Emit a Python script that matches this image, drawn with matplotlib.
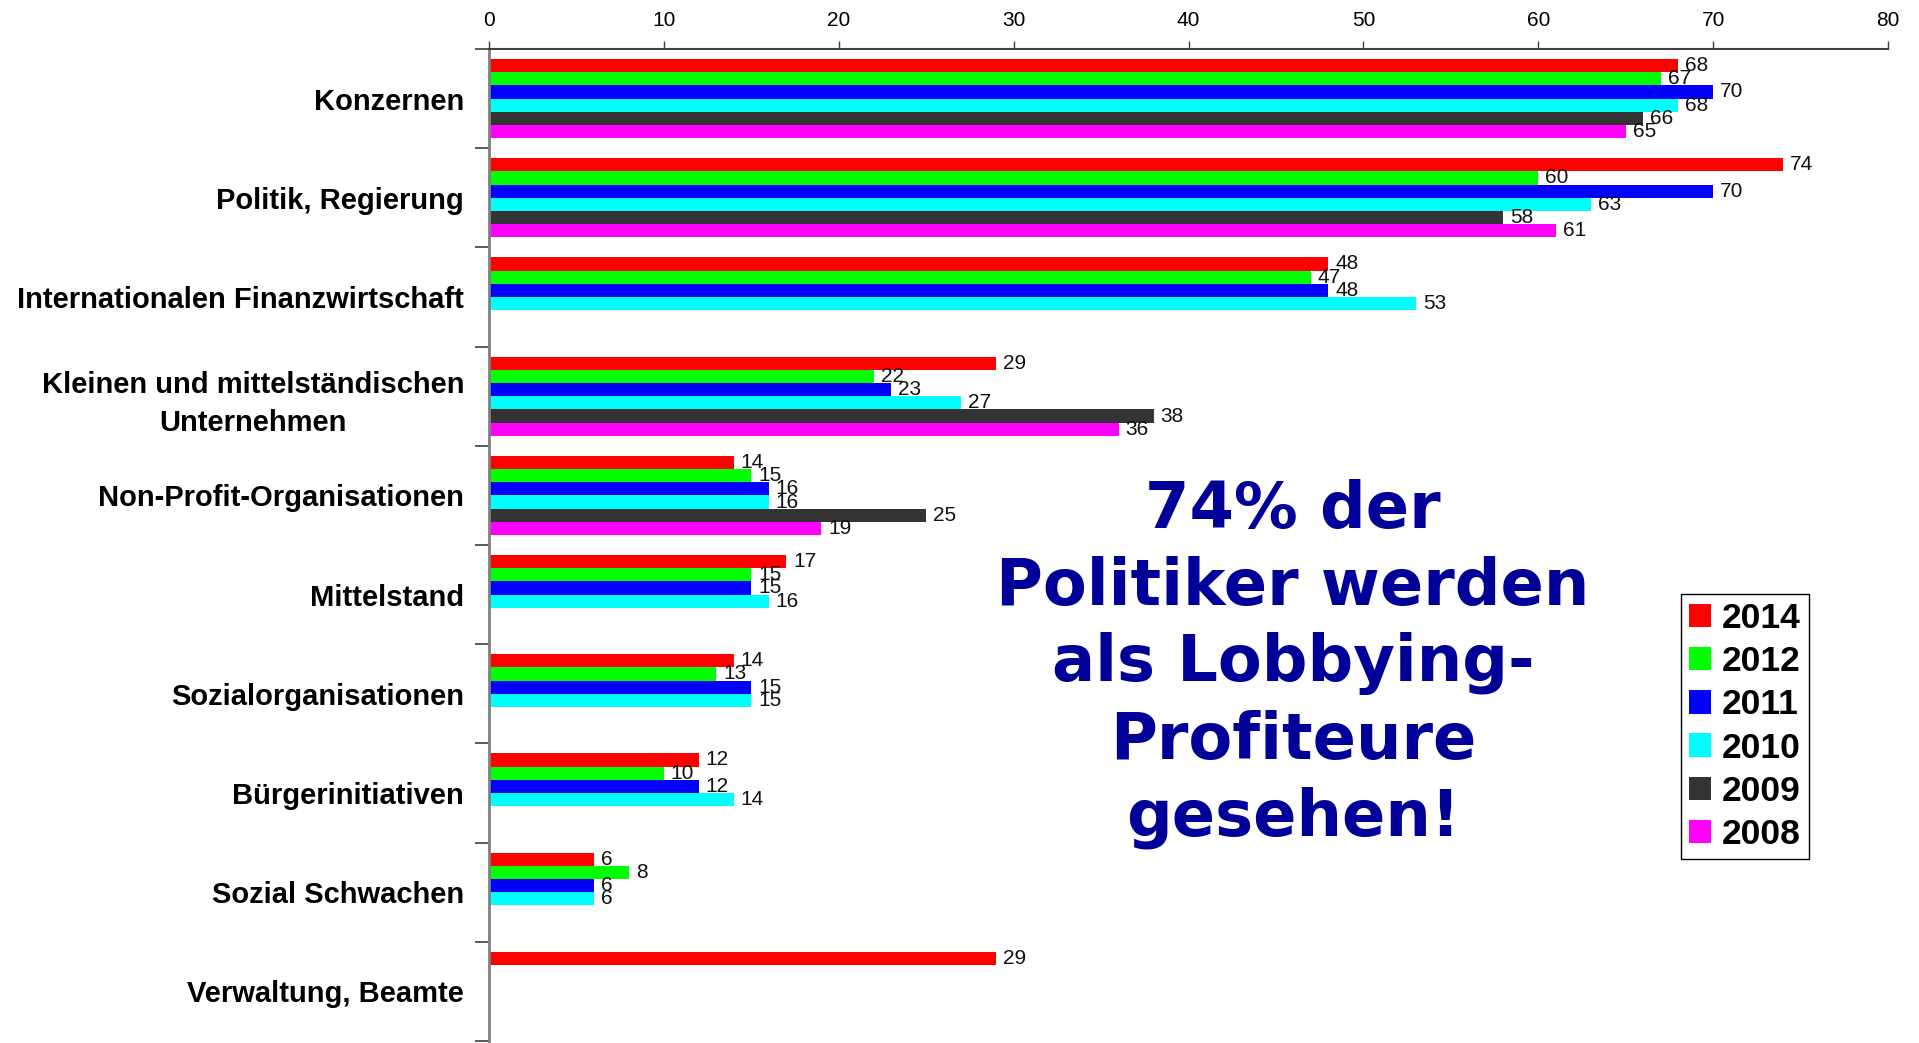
import matplotlib
matplotlib.use("Agg")
import matplotlib.pyplot as plt
from matplotlib.patches import Patch
import numpy as np

categories = [
    "Konzernen",
    "Politik, Regierung",
    "Internationalen Finanzwirtschaft",
    "Kleinen und mittelständischen\nUnternehmen",
    "Non-Profit-Organisationen",
    "Mittelstand",
    "Sozialorganisationen",
    "Bürgerinitiativen",
    "Sozial Schwachen",
    "Verwaltung, Beamte",
]
years = ["2014", "2012", "2011", "2010", "2009", "2008"]
colors = ["#FF0000", "#00FF00", "#0000FF", "#00FFFF", "#333333", "#FF00FF"]

v2014 = [68, 74, 48, 29, 14, 17, 14, 12, 6, 29]
v2012 = [67, 60, 47, 22, 15, 15, 13, 10, 8, None]
v2011 = [70, 70, 48, 23, 16, 15, 15, 12, 6, None]
v2010 = [68, 63, 53, 27, 16, 16, 15, 14, 6, None]
v2009 = [66, 58, None, 38, 25, None, None, None, None, None]
v2008 = [65, 61, None, 36, 19, None, None, None, None, None]
series = [v2014, v2012, v2011, v2010, v2009, v2008]

xticks = [0, 10, 20, 30, 40, 50, 60, 70, 80]

W, H = 1919, 1043
fig = plt.figure(figsize=(W / 100, H / 100), dpi=100)
ax = fig.add_axes([489 / W, 2 / H, (1888 - 489) / W, (1043 - 49 - 2) / H])

n = len(series)
group = 0.8
bh = group / n
for j, (vals, col) in enumerate(zip(series, colors)):
    for i, v in enumerate(vals):
        if v is None:
            continue
        y = i - group / 2 + bh * (j + 0.5)
        ax.barh(y, v, height=bh, color=col, edgecolor="none")
        ax.annotate(str(v), xy=(v, y), xytext=(5, 0), textcoords="offset points",
                    va="center", ha="left", fontsize=15, family="Liberation Sans",
                    color="#111111")

ax.set_xlim(0, 80)
ax.set_ylim(len(categories) - 0.5, -0.5)
ax.xaxis.tick_top()
ax.set_xticks(xticks)
ax.set_xticklabels([str(t) for t in xticks], fontsize=15, family="Liberation Sans")
ax.tick_params(axis="x", which="major", length=6, width=1, color="#404040", pad=7.5)

ax.set_yticks(range(len(categories)))
ax.set_yticklabels(categories, fontsize=21, fontweight="bold", family="Liberation Sans",
                   multialignment="center", linespacing=1.45)
ax.tick_params(axis="y", which="major", length=0, pad=18)
ax.set_yticks(np.arange(-0.5, len(categories), 1.0), minor=True)
ax.tick_params(axis="y", which="minor", length=10, width=1.2, color="#404040")

for s in ["right", "bottom"]:
    ax.spines[s].set_visible(False)
ax.spines["top"].set_color("#404040")
ax.spines["top"].set_linewidth(1.5)
ax.spines["left"].set_color("#808080")
ax.spines["left"].set_linewidth(2)

handles = [Patch(facecolor=c, edgecolor="none", label=y) for c, y in zip(colors, years)]
leg = fig.legend(handles=handles, loc="upper left",
                 bbox_to_anchor=(1681 / W, 1 - 594 / H), borderaxespad=0,
                 prop={"family": "Liberation Sans", "weight": "bold", "size": 25.5},
                 handlelength=0.64, handleheight=0.64, handletextpad=0.3,
                 labelspacing=0.29, borderpad=0.22, fancybox=False,
                 edgecolor="black", framealpha=1)
leg.get_frame().set_linewidth(1.0)

fig.text(1293 / W, 1 - 664 / H,
         "74% der\nPolitiker werden\nals Lobbying-\nProfiteure\ngesehen!",
         ha="center", va="center", fontsize=46, fontweight="bold",
         family="DejaVu Sans", color="#000099", linespacing=1.3)

fig.savefig("out.png", dpi=100)
